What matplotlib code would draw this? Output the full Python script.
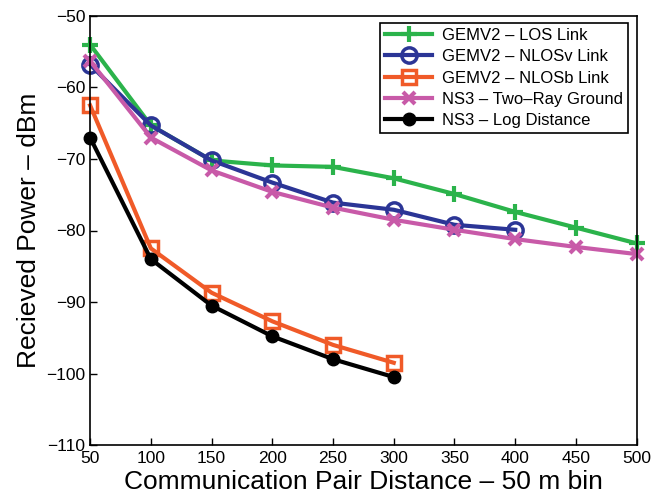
import numpy as np
import matplotlib.pyplot as plt

plt.rcParams['font.family'] = ['Liberation Sans', 'DejaVu Sans']

dist = [50, 100, 150, 200, 250, 300, 350, 400, 450, 500]

los = [-54.0, -65.3, -70.2, -70.9, -71.1, -72.7, -74.9, -77.4, -79.6, -81.8]
nlosv = [-56.8, -65.3, -70.2, -73.3, -76.1, -77.1, -79.2, -79.9]
nlosb = [-62.5, -82.5, -88.7, -92.7, -96.0, -98.5]
tworay = [-56.3, -67.0, -71.6, -74.6, -76.8, -78.5, -79.9, -81.2, -82.3, -83.3]
logdist = [-67.0, -84.0, -90.5, -94.8, -98.0, -100.5]

fig = plt.figure(figsize=(6.53, 5.0), dpi=100)
ax = fig.add_axes([0.138, 0.11, 0.837, 0.858])

lw = 3
ax.plot(dist, los, color='#2bb34b', lw=lw, marker='+', ms=11, mew=3,
        label='GEMV2 \u2013 LOS Link', clip_on=False)
ax.plot(dist[:len(nlosv)], nlosv, color='#2b3596', lw=lw, marker='o', ms=11,
        mew=2.5, mfc='none', label='GEMV2 \u2013 NLOSv Link', clip_on=False)
ax.plot(dist[:len(nlosb)], nlosb, color='#f05a28', lw=lw, marker='s', ms=10,
        mew=2.5, mfc='none', label='GEMV2 \u2013 NLOSb Link', clip_on=False)
ax.plot(dist, tworay, color='#c85aa8', lw=lw, marker='x', ms=8, mew=3,
        label='NS3 \u2013 Two\u2013Ray Ground', clip_on=False)
ax.plot(dist[:len(logdist)], logdist, color='black', lw=lw, marker='o', ms=9,
        label='NS3 \u2013 Log Distance', clip_on=False)

ax.set_xlim(50, 500)
ax.set_ylim(-110, -50)
ax.set_xticks(dist)
ax.set_yticks(np.arange(-110, -49, 10))
ax.tick_params(direction='in', labelsize=12.5, length=5, width=1)
ax.tick_params(axis='x', pad=4)
for s in ax.spines.values():
    s.set_linewidth(1.2)

ax.set_xlabel('Communication Pair Distance \u2013 50 m bin', fontsize=19, labelpad=3)
ax.set_ylabel('Recieved Power \u2013 dBm', fontsize=19, labelpad=4)

leg = ax.legend(loc='upper right', fontsize=12, fancybox=False, framealpha=1,
                edgecolor='black', handlelength=2.8, borderpad=0.3,
                labelspacing=0.38, handletextpad=0.6, borderaxespad=0,
                bbox_to_anchor=(0.984, 0.984))
leg.get_frame().set_linewidth(1.2)

fig.savefig('out.png', dpi=100)
